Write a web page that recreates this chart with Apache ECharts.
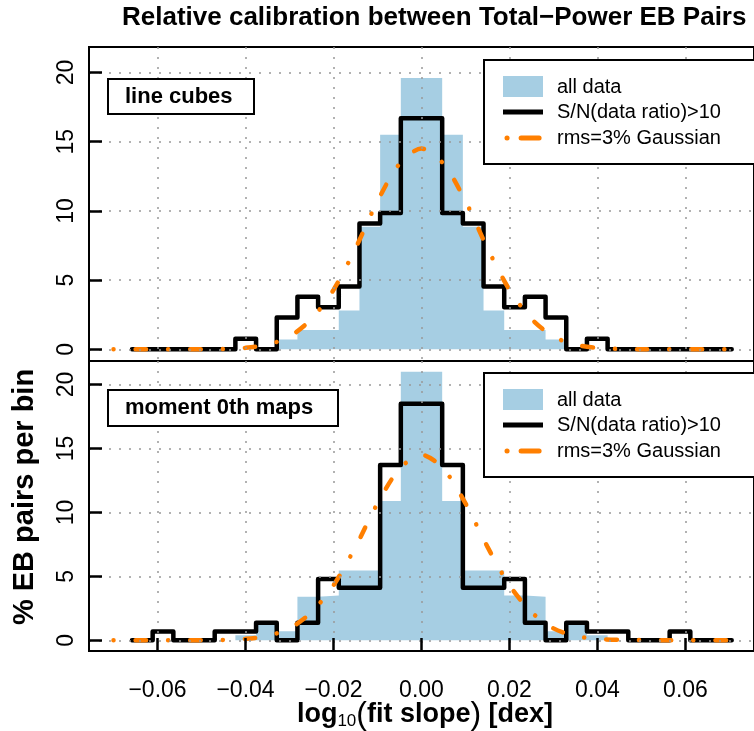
<!DOCTYPE html>
<html>
<head>
<meta charset="utf-8">
<script src="https://cdn.jsdelivr.net/npm/echarts@6/dist/echarts.min.js"></script>
<style>
  html, body { margin: 0; padding: 0; background: #fff; }
  #chart { width: 754px; height: 731px; }
</style>
</head>
<body>
<div id="chart"></div>
<script>
// histogram bins (log10 slope, dex)
const binStart = -0.0658;
const binWidth = 0.0047;

// line cubes panel, % per bin
const lineAll = [0, 0, 0, 0, 0, 0, 0, 0.72, 1.4, 1.4, 2.8, 8.85, 15.5, 19.6, 19.6, 15.5, 8.85, 2.8, 1.4, 1.4, 0.72, 0, 0, 0, 0, 0, 0, 0, 0];
const lineHiSN = [0, 0, 0, 0, 0, 0.76, 0, 2.3, 3.8, 3.05, 4.55, 9.1, 9.85, 16.7, 16.7, 9.85, 9.1, 4.55, 3.05, 3.8, 2.3, 0, 0.76, 0, 0, 0, 0, 0, 0];

// moment 0th maps panel, % per bin
const momAll = [0, 0, 0, 0, 0, 0.4, 1.3, 0.7, 3.4, 3.5, 5.45, 5.45, 10.9, 21.0, 21.0, 10.9, 5.45, 5.45, 3.5, 3.4, 0.7, 1.3, 0.4, 0, 0, 0, 0, 0, 0];
const momHiSN = [0, 0.68, 0, 0, 0.68, 0.68, 1.37, 0, 1.37, 4.8, 4.1, 4.1, 13.7, 18.5, 18.5, 13.7, 4.1, 4.1, 4.8, 1.37, 0, 1.37, 0.68, 0.68, 0, 0, 0.68, 0, 0];

// rms=3% gaussian curve
const gaussX = [-0.07, -0.065, -0.06, -0.055, -0.05, -0.045, -0.04, -0.035, -0.03, -0.025, -0.02, -0.015, -0.01, -0.005, 0,
  0.005, 0.01, 0.015, 0.02, 0.025, 0.03, 0.035, 0.04, 0.045, 0.05, 0.055, 0.06, 0.065, 0.07];
const gaussY = [0, 0, 0, 0, 0.01, 0.03, 0.11, 0.34, 0.93, 2.2, 4.3, 7.3, 10.7, 13.4, 14.5,
  13.4, 10.7, 7.3, 4.3, 2.2, 0.93, 0.34, 0.11, 0.03, 0.01, 0, 0, 0, 0];

const FONT = '"Liberation Sans", Arial, sans-serif';
const BLUE = '#a6cee3';
const ORANGE = '#ff7f00';

function stepPoints(vals) {
  const pts = [[binStart, 0]];
  vals.forEach((v, i) => {
    const a = binStart + i * binWidth;
    pts.push([a, v], [a + binWidth, v]);
  });
  pts.push([binStart + vals.length * binWidth, 0]);
  return pts;
}

function fmtX(v) {
  const s = Math.abs(v).toFixed(2);
  return v < -1e-9 ? '\u2212' + s : s;
}

// axis min/max sit on the frame: their ticks hide under it, their labels/grid lines are dropped
function gridLine() {
  return { show: true, showMinLine: false, showMaxLine: false,
    lineStyle: { color: '#999', width: 1.5, type: [2, 8] } };
}

function xAxis(idx, withLabels) {
  return {
    type: 'value', gridIndex: idx, min: -0.07557, max: 0.07557, splitNumber: 7, z: 5,
    axisLine: withLabels ? { show: true, onZero: false, lineStyle: { color: '#000', width: 2 } }
      : { show: false, onZero: false },
    axisTick: withLabels ? { show: true, inside: true, length: 13, lineStyle: { color: '#000', width: 2.5 } }
      : { show: false },
    axisLabel: withLabels ? { show: true, showMinLabel: false, showMaxLabel: false, formatter: fmtX,
      margin: 28, fontFamily: FONT, fontSize: 23, color: '#000' } : { show: false },
    splitLine: gridLine()
  };
}

function yAxis(idx) {
  return {
    type: 'value', gridIndex: idx, min: -0.84, max: 21.84, splitNumber: 5, z: 5,
    axisLine: { show: true, onZero: false, lineStyle: { color: '#000', width: 2 } },
    axisTick: { show: true, inside: true, length: 13, lineStyle: { color: '#000', width: 2.5 } },
    axisLabel: { show: true, showMinLabel: false, showMaxLabel: false, rotate: 90, margin: 11,
      fontFamily: FONT, fontSize: 23, color: '#000' },
    splitLine: gridLine()
  };
}

function panelSeries(idx, allVals, snVals) {
  return [
    {
      type: 'line', xAxisIndex: idx, yAxisIndex: idx, data: stepPoints(allVals),
      showSymbol: false, silent: true, z: 1,
      lineStyle: { width: 0 }, areaStyle: { color: BLUE, opacity: 1 }
    },
    {
      type: 'line', xAxisIndex: idx, yAxisIndex: idx, data: stepPoints(snVals),
      showSymbol: false, silent: true, z: 2,
      lineStyle: { color: '#000', width: 4.5, join: 'round', cap: 'round' }
    },
    {
      type: 'line', xAxisIndex: idx, yAxisIndex: idx,
      data: gaussX.map((x, i) => [x, gaussY[i]]),
      showSymbol: false, silent: true, z: 3, smooth: 0.3,
      lineStyle: { color: ORANGE, width: 4.5, cap: 'round', type: [0.1, 22, 10.5, 22] }
    }
  ];
}

function legendBox(top) {
  return [
    { type: 'rect', shape: { x: 484, y: top, width: 300, height: 104 },
      style: { fill: '#fff', stroke: '#000', lineWidth: 2 } },
    { type: 'rect', shape: { x: 503, y: top + 16, width: 40, height: 21 }, style: { fill: BLUE } },
    { type: 'line', shape: { x1: 503, y1: top + 52, x2: 543, y2: top + 52 },
      style: { stroke: '#000', lineWidth: 5 } },
    { type: 'line', shape: { x1: 507, y1: top + 78, x2: 543, y2: top + 78 },
      style: { stroke: ORANGE, lineWidth: 5, lineCap: 'round', lineDash: [0.1, 14, 18, 22] } },
    { type: 'text', x: 557, y: top + 27, style: { text: 'all data', font: '20px ' + FONT,
      fill: '#000', textVerticalAlign: 'middle' } },
    { type: 'text', x: 557, y: top + 52, style: { text: 'S/N(data ratio)>10', font: '20px ' + FONT,
      fill: '#000', textVerticalAlign: 'middle' } },
    { type: 'text', x: 557, y: top + 78, style: { text: 'rms=3% Gaussian', font: '20px ' + FONT,
      fill: '#000', textVerticalAlign: 'middle' } }
  ];
}

function tagBox(x, y, w, h, label) {
  return [
    { type: 'rect', shape: { x: x, y: y, width: w, height: h },
      style: { fill: '#fff', stroke: '#000', lineWidth: 2 } },
    { type: 'text', x: x + 17, y: y + h / 2, style: { text: label, font: 'bold 22px ' + FONT,
      fill: '#000', textVerticalAlign: 'middle' } }
  ];
}

const chart = echarts.init(document.getElementById('chart'), null, { renderer: 'canvas' });

chart.setOption({
  animation: false,
  backgroundColor: '#fff',
  grid: [
    { left: 89, right: -8, top: 47, height: 314, show: true, borderColor: '#000', borderWidth: 2 },
    { left: 89, right: -8, top: 361, height: 290, show: true, borderColor: '#000', borderWidth: 2 }
  ],
  xAxis: [xAxis(0, false), xAxis(1, true)],
  yAxis: [yAxis(0), yAxis(1)],
  series: [].concat(panelSeries(0, lineAll, lineHiSN), panelSeries(1, momAll, momHiSN)),
  graphic: {
    elements: [].concat(
      legendBox(60),
      legendBox(373),
      tagBox(108, 79, 146, 35, 'line cubes'),
      tagBox(108, 390, 230, 36, 'moment 0th maps'),
      [
        { type: 'text', x: 122, y: 18,
          style: { text: 'Relative calibration between Total\u2212Power EB Pairs',
            font: 'bold 26px ' + FONT, fill: '#000', textVerticalAlign: 'middle' } },
        { type: 'text', x: 425, y: 715,
          style: {
            text: '{b|log}{s|10}{p|(}{b|fit slope}{p|)}{b| [dex]}',
            textAlign: 'center', textVerticalAlign: 'middle',
            rich: {
              b: { font: 'bold 27px ' + FONT, fill: '#000' },
              s: { font: '17px ' + FONT, fill: '#000', padding: [12, 0, 0, 0] },
              p: { font: '32px ' + FONT, fill: '#000' }
            }
          } },
        { type: 'text', x: 25, y: 497, rotation: Math.PI / 2,
          style: { text: '% EB pairs per bin', font: 'bold 29px ' + FONT, fill: '#000',
            textAlign: 'center', textVerticalAlign: 'middle' } }
      ]
    ).map(e => Object.assign({ z: 10 }, e))
  }
});
</script>
</body>
</html>
